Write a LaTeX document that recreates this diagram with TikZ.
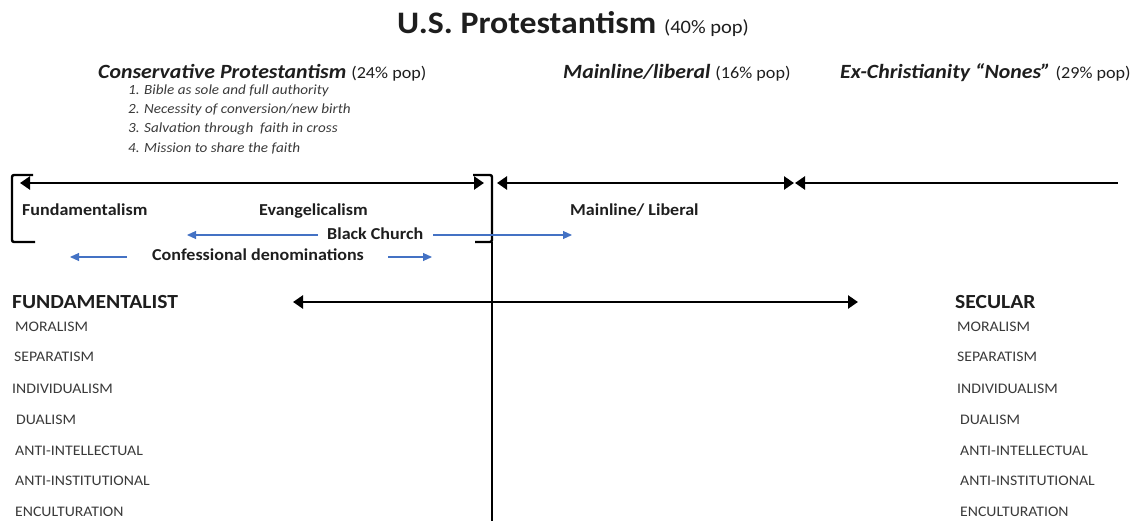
\documentclass[tikz,border=0pt]{standalone}
\usepackage{fontspec}
\setmainfont{Carlito}[FakeStretch=1.08]
\usetikzlibrary{arrows.meta}

\definecolor{txt}{HTML}{1E1E1E}
\definecolor{soft}{HTML}{3A3A3A}
\definecolor{arrblue}{HTML}{4472C4}

\tikzset{
  lbl/.style={anchor=base west, inner sep=0pt, text=txt},
  head/.style={lbl, font=\fontsize{20.2}{24}\selectfont\bfseries\itshape},
  tenet/.style={lbl, text=soft, font=\fontsize{14}{16}\selectfont\itshape},
  group/.style={lbl, font=\fontsize{16.7}{19}\selectfont\bfseries},
  pole/.style={lbl, font=\fontsize{20}{24}\selectfont\bfseries},
  trait/.style={lbl, text=soft, font=\fontsize{14.6}{17}\selectfont},
  bigarrow/.style={line width=2.6pt, {Triangle[length=10pt,width=13pt]}-{Triangle[length=10pt,width=13pt]}},
  bluearrow/.style={line width=1.1pt, arrblue, -{Triangle[length=9pt,width=8pt]}},
  bracket/.style={line width=2.4pt, rounded corners=2pt}
}
\newcommand{\popsize}{\fontsize{16.8}{19}\selectfont\mdseries\upshape}

\begin{document}
\begin{tikzpicture}[x=1pt,y=-1pt]
\useasboundingbox (0,0) rectangle (1130,521);

% headings
\node[lbl, font=\fontsize{31.3}{38}\selectfont\bfseries] (T) at (397,34) {U.S. Protestantism {\fontsize{19}{22}\selectfont\mdseries(40\% pop)}};
\node[head] (H1) at (98,79) {Conservative Protestantism {\popsize(24\% pop)}};
\node[head] (H2) at (563,79) {Mainline/liberal {\popsize(16\% pop)}};
\node[head] (H3) at (840,79) {Ex-Christianity “Nones” {\popsize(29\% pop)}};

\node[tenet] (C1) at (128,95) {1. Bible as sole and full authority};
\node[tenet] (C2) at (128,114) {2. Necessity of conversion/new birth};
\node[tenet] (C3) at (128,133) {3. Salvation through\ \ faith in cross};
\node[tenet] (C4) at (128,153) {4. Mission to share the faith};

% spectrum
\coordinate (A1) at (20,183);
\coordinate (A2) at (484,183);
\coordinate (B1) at (497,183);
\coordinate (B2) at (794,183);
\coordinate (E1) at (1118,183);
\coordinate (E2) at (795,183);
\path[bigarrow] (A1) edge (A2) (B1) edge (B2);
\path[bigarrow, {Triangle[length=10pt,width=13pt]}-] (E2) edge (E1);

\draw[bracket] (33,175) -- (12,175) -- (12,242) -- (35,242);
\draw[bracket] (473,175) -- (492,175) -- (492,242) -- (475,242);
\draw[line width=2.4pt] (492,242) -- (492,521);

\node[group] (G1) at (22,216) {Fundamentalism};
\node[group] (G2) at (259,216) {Evangelicalism};
\node[group] (G3) at (570,216) {Mainline/ Liberal};
\node[group] (G4) at (327,240) {Black Church};
\node[group] (G5) at (152,261) {Confessional denominations};

\coordinate (b0) at (318,235);
\coordinate (b1) at (187,235);
\coordinate (b3) at (433,235);
\coordinate (b2) at (572,235);
\coordinate (c0) at (127,257);
\coordinate (c1) at (70,257);
\coordinate (c3) at (388,257);
\coordinate (c2) at (432,257);
\path[bluearrow] (b0) edge (b1) (b3) edge (b2) (c0) edge (c1) (c3) edge (c2);

% poles
\node[pole] (P1) at (12,309) {FUNDAMENTALIST};
\node[pole] (P2) at (955,309) {SECULAR};
\coordinate (D1) at (293,302);
\coordinate (D2) at (858,302);
\path[bigarrow] (D1) edge (D2);

\foreach \t/\y/\l/\r [count=\i] in {MORALISM/332/15/957, SEPARATISM/362/14/957, INDIVIDUALISM/393/12/957, DUALISM/424/16/960, ANTI-INTELLECTUAL/455/15/960, ANTI-INSTITUTIONAL/485/15/960, ENCULTURATION/516/15/960}{
  \node[trait] (L\i) at (\l,\y) {\t};
  \node[trait] (R\i) at (\r,\y) {\t};
}
\end{tikzpicture}
\end{document}
